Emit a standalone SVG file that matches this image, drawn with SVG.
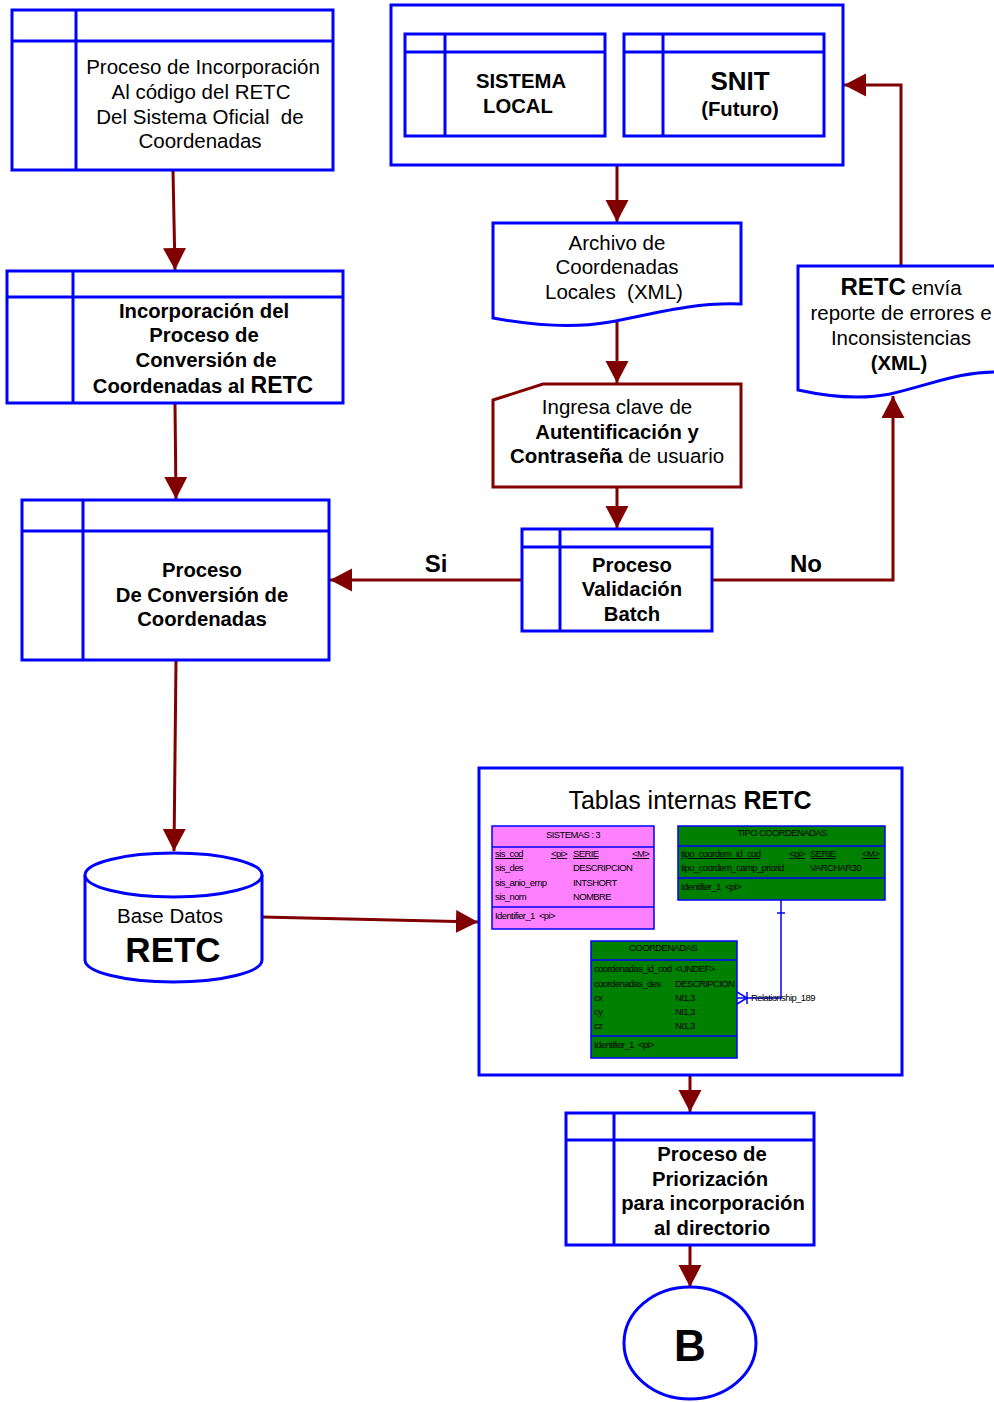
<svg xmlns="http://www.w3.org/2000/svg" width="994" height="1402" viewBox="0 0 994 1402">
<defs>
<style>
.bx{fill:#fff;stroke:#0000FF;stroke-width:3}
.ln{fill:none;stroke:#0000FF;stroke-width:3}
.cn{fill:none;stroke:#800000;stroke-width:3}
.t{font-family:"Liberation Sans",Arial,sans-serif;fill:#000;text-anchor:middle}
.n{font-size:20.5px}
.b{font-size:20.3px;font-weight:bold}
.er{font-family:"Liberation Sans",Arial,sans-serif;font-size:9.5px;letter-spacing:-0.6px;fill:#000}
.erc{text-anchor:middle}
.u{text-decoration:underline}
.tb{stroke:#0000FF;stroke-width:1.5}
.tl{stroke:#0000FF;stroke-width:1.5;fill:none}
</style>
<marker id="ah" markerWidth="24" markerHeight="24" refX="22" refY="11.5" orient="auto" markerUnits="userSpaceOnUse">
<path d="M0,0 L22,11.5 L0,23 z" fill="#800000"/>
</marker>
</defs>
<rect width="994" height="1402" fill="#fff"/>

<g id="connectors">
<line class="cn" x1="173" y1="171" x2="175" y2="270" marker-end="url(#ah)"/>
<line class="cn" x1="175" y1="404" x2="176" y2="499" marker-end="url(#ah)"/>
<line class="cn" x1="176" y1="661" x2="174" y2="851" marker-end="url(#ah)"/>
<line class="cn" x1="262" y1="917" x2="478" y2="922" marker-end="url(#ah)"/>
<line class="cn" x1="617" y1="166" x2="617" y2="222" marker-end="url(#ah)"/>
<line class="cn" x1="617" y1="322" x2="617" y2="383" marker-end="url(#ah)"/>
<line class="cn" x1="617" y1="488" x2="617" y2="528" marker-end="url(#ah)"/>
<line class="cn" x1="521" y1="580" x2="330" y2="580" marker-end="url(#ah)"/>
<polyline class="cn" points="712,580 893,580 893,396" marker-end="url(#ah)"/>
<polyline class="cn" points="901,266 901,85 844,85" marker-end="url(#ah)"/>
<line class="cn" x1="690" y1="1076" x2="690" y2="1112" marker-end="url(#ah)"/>
<line class="cn" x1="690" y1="1246" x2="690" y2="1287" marker-end="url(#ah)"/>
<text class="t" x="436" y="572" font-size="24" font-weight="bold">Si</text>
<text class="t" x="806" y="572" font-size="24" font-weight="bold">No</text>
</g>

<g id="proc-incorporacion">
<rect class="bx" x="12" y="10" width="321" height="160"/>
<line class="ln" x1="12" y1="41" x2="333" y2="41"/>
<line class="ln" x1="76" y1="10" x2="76" y2="170"/>
<text class="t n" x="203" y="74">Proceso de Incorporación</text>
<text class="t n" x="201" y="99">Al código del RETC</text>
<text class="t n" x="200" y="124" xml:space="preserve">Del Sistema Oficial  de</text>
<text class="t n" x="200" y="148">Coordenadas</text>
</g>

<g id="incorporacion-conversion">
<rect class="bx" x="7" y="271" width="336" height="132"/>
<line class="ln" x1="7" y1="297" x2="343" y2="297"/>
<line class="ln" x1="73" y1="271" x2="73" y2="403"/>
<text class="t b" x="204" y="318">Incorporación del</text>
<text class="t b" x="204" y="342">Proceso de</text>
<text class="t b" x="206" y="367">Conversión de</text>
<text class="t b" x="203" y="393">Coordenadas al <tspan font-size="23">RETC</tspan></text>
</g>

<g id="proc-conversion">
<rect class="bx" x="22" y="500" width="307" height="160"/>
<line class="ln" x1="22" y1="531" x2="329" y2="531"/>
<line class="ln" x1="83" y1="500" x2="83" y2="660"/>
<text class="t b" x="202" y="577">Proceso</text>
<text class="t b" x="202" y="602">De Conversión de</text>
<text class="t b" x="202" y="626">Coordenadas</text>
</g>

<g id="sistemas-container">
<rect class="bx" x="391" y="5" width="452" height="160"/>
</g>
<g id="sistema-local">
<rect class="bx" x="405" y="34" width="200" height="102"/>
<line class="ln" x1="405" y1="52" x2="605" y2="52"/>
<line class="ln" x1="445" y1="34" x2="445" y2="136"/>
<text class="t b" x="521" y="88">SISTEMA</text>
<text class="t b" x="518" y="113">LOCAL</text>
</g>
<g id="snit">
<rect class="bx" x="624" y="34" width="200" height="102"/>
<line class="ln" x1="624" y1="52" x2="824" y2="52"/>
<line class="ln" x1="663" y1="34" x2="663" y2="136"/>
<text class="t" x="740" y="90" font-size="26" font-weight="bold">SNIT</text>
<text class="t b" x="740" y="116">(Futuro)</text>
</g>

<g id="archivo">
<path class="bx" d="M493,223 H741 V304 C690,302 650,315 610,322 C570,329 530,325 493,318 Z"/>
<text class="t n" x="617" y="250">Archivo de</text>
<text class="t n" x="617" y="274">Coordenadas</text>
<text class="t n" x="614" y="299" xml:space="preserve">Locales  (XML)</text>
</g>

<g id="ingresa-clave">
<path d="M493,400 L543,384 H741 V487 H493 Z" fill="#fff" stroke="#800000" stroke-width="3"/>
<text class="t n" x="617" y="414">Ingresa clave de</text>
<text class="t b" x="617" y="439">Autentificación y</text>
<text class="t n" x="617" y="463"><tspan font-weight="bold">Contraseña</tspan> de usuario</text>
</g>

<g id="validacion">
<rect class="bx" x="522" y="529" width="190" height="102"/>
<line class="ln" x1="522" y1="547" x2="712" y2="547"/>
<line class="ln" x1="560" y1="529" x2="560" y2="631"/>
<text class="t b" x="632" y="572">Proceso</text>
<text class="t b" x="632" y="596">Validación</text>
<text class="t b" x="632" y="621">Batch</text>
</g>

<g id="reporte-errores">
<path class="bx" d="M798,266 H1000 V372 C960,371 930,385 890,394 C860,400 830,397 798,390 Z"/>
<text class="t n" x="901" y="295"><tspan font-size="24" font-weight="bold">RETC</tspan> envía</text>
<text class="t n" x="901" y="320">reporte de errores e</text>
<text class="t n" x="901" y="345">Inconsistencias</text>
<text class="t b" x="899" y="370">(XML)</text>
</g>

<g id="base-datos">
<path class="bx" d="M85,875 V960 A88.5,22 0 0 0 262,960 V875"/>
<ellipse class="bx" cx="173.5" cy="875" rx="88.5" ry="22"/>
<text class="t n" x="170" y="923">Base Datos</text>
<text class="t" x="173" y="962" font-size="35" font-weight="bold">RETC</text>
</g>

<g id="tablas-internas">
<rect class="bx" x="479" y="768" width="423" height="307"/>
<text class="t" x="690" y="809" font-size="25">Tablas internas <tspan font-weight="bold">RETC</tspan></text>

<g id="tabla-sistemas">
<rect class="tb" x="492" y="826" width="162" height="103" fill="#FF80FF"/>
<line class="tl" x1="492" y1="847" x2="654" y2="847"/>
<line class="tl" x1="492" y1="907" x2="654" y2="907"/>
<text class="er erc" x="573" y="838">SISTEMAS : 3</text>
<text class="er u" x="495" y="857">sis_cod</text><text class="er u" x="551" y="857">&lt;pi&gt;</text><text class="er u" x="573" y="857">SERIE</text><text class="er u" x="632" y="857">&lt;M&gt;</text>
<text class="er" x="495" y="871">sis_des</text><text class="er" x="573" y="871">DESCRIPCION</text>
<text class="er" x="495" y="886">sis_anio_emp</text><text class="er" x="573" y="886">INTSHORT</text>
<text class="er" x="495" y="900">sis_nom</text><text class="er" x="573" y="900">NOMBRE</text>
<text class="er" x="495" y="919" xml:space="preserve">Identifier_1  &lt;pi&gt;</text>
</g>

<g id="tabla-tipo-coordenadas">
<rect class="tb" x="678" y="826" width="207" height="74" fill="#008000"/>
<line class="tl" x1="678" y1="846" x2="885" y2="846"/>
<line class="tl" x1="678" y1="878" x2="885" y2="878"/>
<text class="er erc" x="782" y="836">TIPO COORDENADAS</text>
<text class="er u" x="681" y="857">tipo_coordem_id_cod</text><text class="er u" x="789" y="857">&lt;pi&gt;</text><text class="er u" x="810" y="857">SERIE</text><text class="er u" x="862" y="857">&lt;M&gt;</text>
<text class="er" x="681" y="871">tipo_coordem_camp_priorid</text><text class="er" x="810" y="871">VARCHAR30</text>
<text class="er" x="681" y="890" xml:space="preserve">Identifier_1  &lt;pi&gt;</text>
</g>

<g id="tabla-coordenadas">
<rect class="tb" x="591" y="941" width="146" height="117" fill="#008000"/>
<line class="tl" x1="591" y1="960" x2="737" y2="960"/>
<line class="tl" x1="591" y1="1036" x2="737" y2="1036"/>
<text class="er erc" x="663" y="951">COORDENADAS</text>
<text class="er" x="594" y="972">coordenadas_id_cod</text><text class="er" x="675" y="972">&lt;UNDEF&gt;</text>
<text class="er" x="594" y="987">coordenadas_des</text><text class="er" x="675" y="987">DESCRIPCION</text>
<text class="er" x="594" y="1001">cx</text><text class="er" x="675" y="1001">NI1,3</text>
<text class="er" x="594" y="1015">cy</text><text class="er" x="675" y="1015">NI1,3</text>
<text class="er" x="594" y="1029">cz</text><text class="er" x="675" y="1029">NI1,3</text>
<text class="er" x="594" y="1048" xml:space="preserve">Identifier_1  &lt;pi&gt;</text>
</g>

<g id="relationship-189">
<polyline class="tl" points="781,900 781,998 737,998"/>
<line class="tl" x1="777" y1="913" x2="785" y2="913"/>
<polyline class="tl" points="737,992 747,998 737,1004"/>
<line class="tl" x1="747" y1="992" x2="747" y2="1004"/>
<text class="er" x="751" y="1001">Relationship_189</text>
</g>
</g>

<g id="priorizacion">
<rect class="bx" x="566" y="1113" width="248" height="132"/>
<line class="ln" x1="566" y1="1140" x2="814" y2="1140"/>
<line class="ln" x1="614" y1="1113" x2="614" y2="1245"/>
<text class="t b" x="712" y="1161">Proceso de</text>
<text class="t b" x="710" y="1186">Priorización</text>
<text class="t b" x="713" y="1210">para incorporación</text>
<text class="t b" x="712" y="1235">al directorio</text>
</g>

<g id="conector-b">
<ellipse class="bx" cx="690" cy="1343" rx="66" ry="56"/>
<text class="t" x="690" y="1361" font-size="44" font-weight="bold">B</text>
</g>
</svg>
